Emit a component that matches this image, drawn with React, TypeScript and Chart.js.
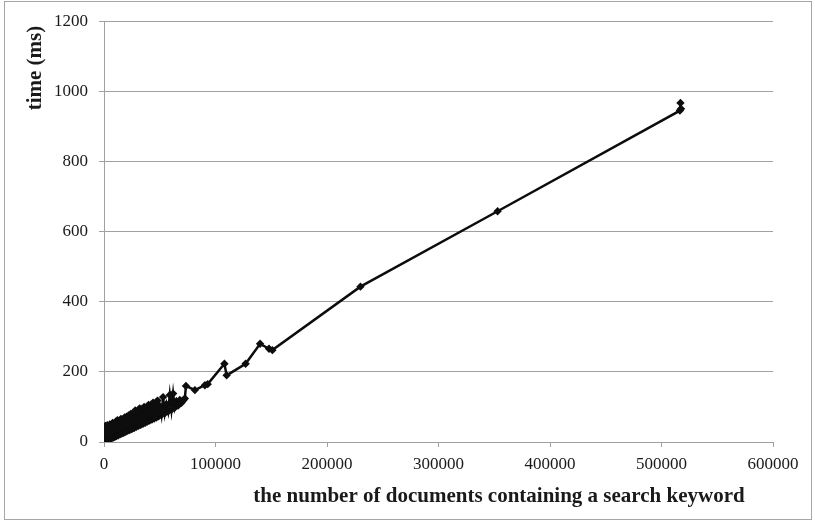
import React, { useEffect, useRef } from "react";
import { Chart, registerables } from "chart.js";

Chart.register(...registerables);

const docCounts: number[] = [
  0, 400, 800, 1200, 1600, 2000, 2500, 3000, 3500, 4000, 4600, 5200, 5800, 6400, 7000, 7700,
  8400, 9100, 9800, 10500, 11200, 12000, 12800, 13600, 14400, 15200, 16000, 16800, 17600, 18500,
  19400, 20300, 21200, 22100, 23000, 24000, 25000, 26000, 27000, 28000, 29000, 30000, 31000,
  32000, 33000, 34000, 35000, 36000, 37000, 38000, 39000, 40000, 41000, 42000, 43000, 44000,
  45000, 46000, 47000, 48000, 49000, 50000, 51500, 53000, 54500, 56000, 57500, 59000, 60500,
  62000, 63500, 65000, 66500, 68000, 69500, 71000, 72500, 73500, 81500, 90500, 93000, 108000,
  110000, 127000, 140000, 148000, 151000, 230000, 353000, 516500, 517000, 517500,
];

const timesMs: number[] = [
  0, 40, 2, 46, 4, 42, 5, 48, 6, 44, 8, 50, 9, 48, 11, 54,
  13, 52, 15, 58, 17, 62, 19, 60, 22, 66, 24, 64, 26, 70,
  29, 72, 32, 76, 34, 80, 37, 66, 40, 90, 43, 72, 46,
  96, 49, 78, 52, 100, 55, 84, 58, 106, 61, 90, 64, 112,
  67, 96, 70, 118, 73, 102, 77, 128, 82, 108, 87, 134, 92,
  138, 98, 116, 104, 120, 112, 118, 124, 160, 148, 162, 165, 223,
  190, 223, 280, 266, 262, 443, 658, 945, 967, 950,
];

const xTicks: number[] = [0, 100000, 200000, 300000, 400000, 500000, 600000];
const yTicks: number[] = [0, 200, 400, 600, 800, 1000, 1200];

const xTitle = "the number of documents containing a search keyword";
const yTitle = "time (ms)";

const FONT = "'Liberation Serif', 'Times New Roman', serif";

const decorPlugin = {
  id: "decor",
  afterDraw(chart: any) {
    const ctx = chart.ctx;
    ctx.save();
    ctx.strokeStyle = "#a6a6a6";
    ctx.lineWidth = 1;
    ctx.strokeRect(4.5, 1.5, 807, 518);
    ctx.fillStyle = "#1a1a1a";
    ctx.font = `bold 21px ${FONT}`;
    ctx.textAlign = "center";
    ctx.textBaseline = "middle";
    ctx.fillText(xTitle, 499, 497);
    ctx.translate(36, 68);
    ctx.rotate(-Math.PI / 2);
    ctx.fillText(yTitle, 0, 0);
    ctx.restore();
  },
};

export default function App() {
  const ref = useRef<HTMLCanvasElement | null>(null);
  useEffect(() => {
    if (!ref.current) return;
    const points = docCounts.map((x, i) => ({ x, y: timesMs[i] }));
    const chart = new Chart(ref.current, {
      type: "scatter",
      data: {
        datasets: [
          {
            data: points,
            showLine: true,
            borderColor: "#0d0d0d",
            borderWidth: 2.5,
            backgroundColor: "#0d0d0d",
            pointStyle: "rectRot",
            pointRadius: 4.2,
            pointBorderWidth: 0,
            pointHoverRadius: 4.2,
          },
        ],
      },
      options: {
        animation: false,
        responsive: false,
        devicePixelRatio: 1,
        events: [],
        layout: { padding: { top: 21, right: 42, left: 0, bottom: 0 } },
        plugins: { legend: { display: false }, tooltip: { enabled: false } },
        scales: {
          x: {
            type: "linear",
            min: 0,
            max: 600000,
            afterBuildTicks: (s: any) => {
              s.ticks = xTicks.map((v) => ({ value: v }));
            },
            afterFit: (s: any) => {
              s.height = 81;
            },
            grid: {
              drawOnChartArea: false,
              drawTicks: true,
              tickLength: 5,
              color: "#a0a0a0",
            },
            border: { display: true, color: "#a0a0a0", width: 1 },
            ticks: {
              padding: 7,
              maxRotation: 0,
              autoSkip: false,
              color: "#1a1a1a",
              font: { family: FONT, size: 17 },
              callback: (v: any) => String(v),
            },
          },
          y: {
            type: "linear",
            min: 0,
            max: 1200,
            afterBuildTicks: (s: any) => {
              s.ticks = yTicks.map((v) => ({ value: v }));
            },
            afterFit: (s: any) => {
              s.width = 104;
            },
            grid: {
              drawOnChartArea: true,
              drawTicks: true,
              tickLength: 5,
              color: "#a0a0a0",
            },
            border: { display: true, color: "#a0a0a0", width: 1 },
            ticks: {
              padding: 11,
              autoSkip: false,
              color: "#1a1a1a",
              font: { family: FONT, size: 17 },
              callback: (v: any) => String(v),
            },
          },
        },
      },
      plugins: [decorPlugin],
    });
    return () => chart.destroy();
  }, []);
  return (
    <div style={{ position: "fixed", left: 0, top: 0, width: 815, height: 523, background: "#fff" }}>
      <canvas ref={ref} width={815} height={523} style={{ display: "block" }} />
    </div>
  );
}
